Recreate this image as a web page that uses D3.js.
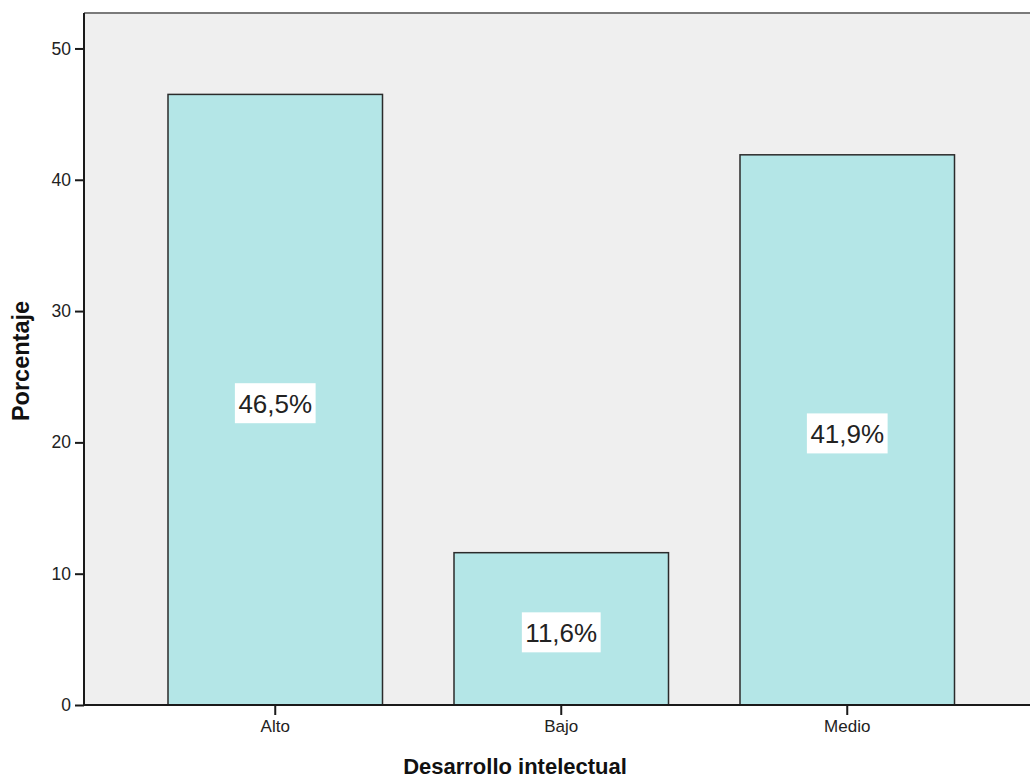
<!DOCTYPE html>
<html>
<head>
<meta charset="utf-8">
<script src="https://cdn.jsdelivr.net/npm/d3@7"></script>
<style>
  html, body { margin: 0; padding: 0; background: #ffffff; }
  svg { display: block; }
</style>
</head>
<body>
<svg id="chart" width="1030" height="781"></svg>
<script>
// Desarrollo intelectual: percentage of cases per category
const categories = ["Alto", "Bajo", "Medio"];
const percentages = [46.5, 11.6, 41.9];
const valueLabels = ["46,5%", "11,6%", "41,9%"];
const yTicks = [0, 10, 20, 30, 40, 50];

const svg = d3.select("#chart");
const plot = { left: 84, top: 13, right: 1030, bottom: 705 };

const x = d3.scaleBand()
  .domain(categories)
  .range([96.5, 1026])
  .paddingInner(0.25)
  .paddingOuter(0.25);

const y = d3.scaleLinear()
  .domain([0, 52.7])
  .range([plot.bottom, plot.top]);

// plot background
svg.append("rect")
  .attr("x", plot.left)
  .attr("y", plot.top)
  .attr("width", plot.right - plot.left)
  .attr("height", plot.bottom - plot.top)
  .attr("fill", "#efefef");

// top frame line
svg.append("line")
  .attr("x1", plot.left).attr("x2", plot.right)
  .attr("y1", plot.top).attr("y2", plot.top)
  .attr("stroke", "#7a7a7a")
  .attr("stroke-width", 2);

// bars
svg.append("g")
  .selectAll("rect")
  .data(categories)
  .join("rect")
  .attr("x", d => x(d))
  .attr("y", (d, i) => y(percentages[i]))
  .attr("width", x.bandwidth())
  .attr("height", (d, i) => y(0) - y(percentages[i]))
  .attr("fill", "#b4e6e7")
  .attr("stroke", "#2b2b2b")
  .attr("stroke-width", 1.5);

// value labels in white boxes
const labels = svg.append("g")
  .selectAll("g")
  .data(categories)
  .join("g")
  .attr("transform", (d, i) =>
    `translate(${x(d) + x.bandwidth() / 2},${(y(percentages[i]) + y(0)) / 2 + 3.5})`);

labels.each(function(d, i) {
  const g = d3.select(this);
  const t = g.append("text")
    .attr("text-anchor", "middle")
    .attr("dy", "0.36em")
    .attr("font-family", "Liberation Sans, Arial, sans-serif")
    .attr("font-size", 26)
    .attr("fill", "#222")
    .text(valueLabels[i]);
  const bb = t.node().getBBox();
  g.insert("rect", "text")
    .attr("x", bb.x - 3.5)
    .attr("y", -20)
    .attr("width", bb.width + 7)
    .attr("height", 40)
    .attr("fill", "#ffffff");
});

// y axis
const yAxis = svg.append("g")
  .attr("transform", `translate(${plot.left},0)`)
  .call(d3.axisLeft(y).tickValues(yTicks).tickFormat(d3.format("d")).tickSize(9).tickPadding(4));
yAxis.select(".domain").attr("stroke", "#1a1a1a").attr("stroke-width", 2)
  .attr("d", `M0,${plot.top}V${plot.bottom}`);
yAxis.selectAll(".tick line").attr("stroke", "#1a1a1a").attr("stroke-width", 2);
yAxis.selectAll(".tick text")
  .attr("font-family", "Liberation Sans, Arial, sans-serif")
  .attr("font-size", 17.5)
  .attr("fill", "#222");

// x axis
const xAxis = svg.append("g")
  .attr("transform", `translate(0,${plot.bottom})`)
  .call(d3.axisBottom(x).tickSize(10).tickPadding(5));
xAxis.select(".domain").attr("stroke", "#1a1a1a").attr("stroke-width", 2)
  .attr("d", `M${plot.left},0H${plot.right}`);
xAxis.selectAll(".tick line").attr("stroke", "#1a1a1a").attr("stroke-width", 2);
xAxis.selectAll(".tick text")
  .attr("font-family", "Liberation Sans, Arial, sans-serif")
  .attr("font-size", 17)
  .attr("fill", "#222");

// axis titles
svg.append("text")
  .attr("x", 515)
  .attr("y", 774)
  .attr("text-anchor", "middle")
  .attr("font-family", "Liberation Sans, Arial, sans-serif")
  .attr("font-weight", "bold")
  .attr("font-size", 22)
  .attr("fill", "#111")
  .text("Desarrollo intelectual");

svg.append("text")
  .attr("transform", "translate(29,361) rotate(-90)")
  .attr("text-anchor", "middle")
  .attr("font-family", "Liberation Sans, Arial, sans-serif")
  .attr("font-weight", "bold")
  .attr("font-size", 23.5)
  .attr("fill", "#111")
  .text("Porcentaje");
</script>
</body>
</html>
